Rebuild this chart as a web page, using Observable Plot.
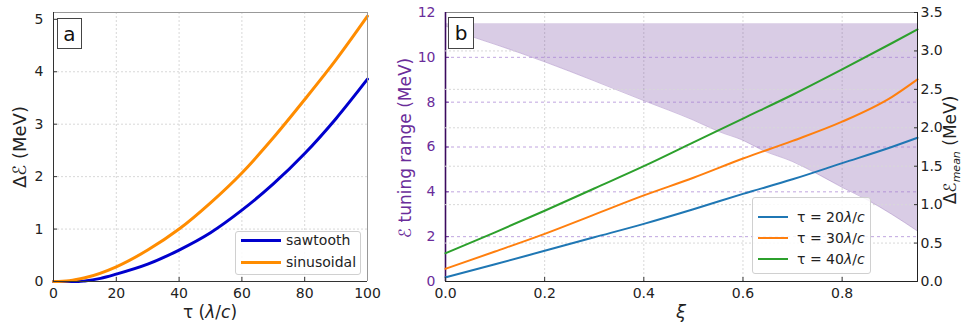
<!DOCTYPE html>
<html><head><meta charset="utf-8">
<script src="https://cdn.jsdelivr.net/npm/d3@7"></script>
<script src="https://cdn.jsdelivr.net/npm/@observablehq/plot@0.6"></script>
<style>
body{margin:0;background:#fff;font-family:"DejaVu Sans",sans-serif;}
#root{position:relative;width:964px;height:323px;overflow:hidden;background:#fff;}
.layer{position:absolute;top:0;}
.lbl{position:absolute;white-space:nowrap;color:#222;transform:translate(-50%,-50%);line-height:1;}
.rot{transform:translate(-50%,-50%) rotate(-90deg);}
.leg{position:absolute;background:rgba(255,255,255,0.85);border:1px solid #d0d0d0;border-radius:3px;font-size:14px;color:#222;}
.row{position:absolute;left:0;white-space:nowrap;line-height:1;}
.row span.sw{position:absolute;top:-1.5px;height:0;}
.row span.tx{position:absolute;transform:translateY(-50%);}
.tag{position:absolute;border:1px solid #444;background:#fff;font-size:20px;color:#111;display:flex;align-items:center;justify-content:center;}
</style></head><body><div id="root"></div>
<script>
// ---- Panel a data ----
const tauSaw = [0, 5, 8, 10, 15, 20, 30, 40, 50, 60, 70, 80, 90, 100];
const sawtooth = [0, 0, 0.0, 0.01, 0.06, 0.14, 0.33, 0.6, 0.93, 1.36, 1.86, 2.44, 3.11, 3.86];
const tauSin = [0, 5, 10, 20, 30, 40, 50, 60, 70, 80, 90, 100];
const sinusoidal = [0, 0.015, 0.07, 0.28, 0.6, 1.0, 1.5, 2.07, 2.74, 3.47, 4.23, 5.06];
const tauTicks = [0, 20, 40, 60, 80, 100];
const dETicks = [0, 1, 2, 3, 4, 5];

// ---- Panel b data ----
const xi = [0, 0.1, 0.2, 0.3, 0.4, 0.5, 0.6, 0.7, 0.8, 0.9, 0.952];
const tau20 = [0.055, 0.225, 0.40, 0.575, 0.75, 0.94, 1.14, 1.33, 1.54, 1.75, 1.87];
const tau30 = [0.165, 0.39, 0.62, 0.87, 1.12, 1.35, 1.6, 1.83, 2.08, 2.4, 2.63];
const tau40 = [0.367, 0.64, 0.92, 1.21, 1.50, 1.81, 2.12, 2.43, 2.76, 3.1, 3.28];
const xiShade = [0, 0.05, 0.1, 0.2, 0.3, 0.4, 0.5, 0.55, 0.6, 0.64, 0.7, 0.75, 0.8, 0.85, 0.9, 0.952];
const shadeLow = [11.4, 10.95, 10.58, 9.8, 8.95, 8.07, 7.2, 6.7, 6.3, 5.85, 5.35, 4.8, 4.2, 3.65, 3.0, 2.25];
const shadeTop = 11.5;
const xiTicks = [0, 0.2, 0.4, 0.6, 0.8];
const rangeTicks = [0, 2, 4, 6, 8, 10, 12];
const meanTicks = [0, 0.5, 1, 1.5, 2, 2.5, 3, 3.5];

const FONT = "DejaVu Sans";
const root = document.getElementById("root");
function place(el, left) { el.classList.add("layer"); el.style.left = left + "px"; root.appendChild(el); }
const intFmt = d => String(d);
const f1 = d3.format(".1f");

// ---------- Panel a ----------
const sawData = tauSaw.map((t, i) => ({t, v: sawtooth[i]}));
const sinData = tauSin.map((t, i) => ({t, v: sinusoidal[i]}));
const A = Plot.plot({
  width: 400, height: 323, marginLeft: 53, marginRight: 33, marginTop: 12, marginBottom: 42,
  x: {domain: [0, 100]}, y: {domain: [0, 5.13]},
  style: {fontFamily: FONT, fontSize: "14px", color: "#222", background: "transparent"},
  marks: [
    Plot.gridX([20, 40, 60, 80], {stroke: "#d8d8d8", strokeOpacity: 1, strokeDasharray: "2,2"}),
    Plot.gridY([1, 2, 3, 4], {stroke: "#d8d8d8", strokeOpacity: 1, strokeDasharray: "2,2"}),
    Plot.line(sawData, {x: "t", y: "v", stroke: "#0000cd", strokeWidth: 3, curve: "monotone-x"}),
    Plot.line(sinData, {x: "t", y: "v", stroke: "#ff8c00", strokeWidth: 3, curve: "monotone-x"}),
    Plot.axisX(tauTicks, {tickSize: 0, tickPadding: 7, label: null, fontSize: 14, tickFormat: intFmt}),
    Plot.axisX(tauTicks, {tickSize: 4, dy: -4, tickFormat: () => "", label: null, stroke: "#333"}),
    Plot.axisY(dETicks, {tickSize: 0, tickPadding: 10, label: null, fontSize: 14, tickFormat: intFmt}),
    Plot.axisY(dETicks, {tickSize: 4, dx: 4, tickFormat: () => "", label: null, stroke: "#333"}),
    Plot.ruleY([5.13], {stroke: "#999"}),
    Plot.ruleX([100], {stroke: "#999"}),
    Plot.ruleX([0], {stroke: "#333"}),
    Plot.ruleY([0], {stroke: "#333"})
  ]
});
place(A, 0);

// ---------- Panel b, layer 1 (left scale) ----------
const PURPLE = "#6a2c9a";
const shade = xiShade.map((x, i) => ({x, lo: shadeLow[i], hi: shadeTop}));
const common = {width: 564, height: 323, marginLeft: 45, marginRight: 47, marginTop: 12, marginBottom: 42};
const B1 = Plot.plot({
  ...common,
  x: {domain: [0, 0.952], axis: null}, y: {domain: [0, 12]},
  style: {fontFamily: FONT, fontSize: "14px", color: "#222", background: "transparent"},
  marks: [
    Plot.gridX([0.2, 0.4, 0.6, 0.8], {stroke: "#d8d8d8", strokeOpacity: 1, strokeDasharray: "2,2"}),
    Plot.areaY(shade, {x: "x", y1: "lo", y2: "hi", fill: "#663399", fillOpacity: 0.25, curve: "monotone-x"}),
    Plot.line(shade, {x: "x", y: "lo", stroke: "#663399", strokeOpacity: 0.3, strokeWidth: 1, curve: "monotone-x"}),
    Plot.gridY([2, 4, 6, 8, 10], {stroke: "#a57fd1", strokeOpacity: 0.7, strokeDasharray: "3,3"}),
    Plot.axisY(rangeTicks, {tickSize: 0, tickPadding: 10, label: null, fontSize: 14, fill: PURPLE, tickFormat: intFmt}),
    Plot.axisY(rangeTicks, {tickSize: 4, dx: 4, tickFormat: () => "", label: null, stroke: PURPLE}),
    Plot.ruleY([12], {stroke: "#888"}),
    Plot.ruleX([0], {stroke: "#3b0a5e", strokeWidth: 1.6})
  ]
});
place(B1, 400);

// ---------- Panel b, layer 2 (right scale) ----------
const lineData = [["τ20", tau20], ["τ30", tau30], ["τ40", tau40]]
  .flatMap(([k, arr]) => arr.map((v, i) => ({k, x: xi[i], v})));
const B2 = Plot.plot({
  ...common,
  x: {domain: [0, 0.952]}, y: {domain: [0, 3.5]},
  color: {domain: ["τ20", "τ30", "τ40"], range: ["#1f77b4", "#ff7f0e", "#2ca02c"]},
  style: {fontFamily: FONT, fontSize: "14px", color: "#222", background: "transparent"},
  marks: [
    Plot.gridY([0.5, 1, 1.5, 2, 2.5, 3], {stroke: "#d8d8d8", strokeOpacity: 1, strokeDasharray: "2,2"}),
    Plot.line(lineData, {x: "x", y: "v", z: "k", stroke: "k", strokeWidth: 2, curve: "monotone-x"}),
    Plot.axisX(xiTicks, {tickSize: 0, tickPadding: 7, label: null, fontSize: 14, tickFormat: f1}),
    Plot.axisX(xiTicks, {tickSize: 4, dy: -4, tickFormat: () => "", label: null, stroke: "#333"}),
    Plot.axisY(meanTicks, {anchor: "right", tickSize: 0, tickPadding: 3, label: null, fontSize: 14, tickFormat: f1}),
    Plot.axisY(meanTicks, {anchor: "right", tickSize: 4, dx: -4, tickFormat: () => "", label: null, stroke: "#333"}),
    Plot.ruleX([0.952], {stroke: "#222"}),
    Plot.ruleY([0], {stroke: "#222"})
  ]
});
place(B2, 400);

// ---------- Text overlays ----------
function label(html, cx, cy, size, extra = "", rot = false) {
  const d = document.createElement("div");
  d.className = "lbl" + (rot ? " rot" : "");
  d.style.left = cx + "px"; d.style.top = cy + "px"; d.style.fontSize = size + "px";
  d.style.cssText += extra;
  d.innerHTML = html;
  root.appendChild(d);
}
label("Δℰ (MeV)", 20, 147, 18, "", true);
label("τ (<i>λ</i>/<i>c</i>)", 210, 312, 17);
label("ℰ tuning range (MeV)", 405, 148, 17, "color:" + PURPLE + ";", true);
label("<i>ξ</i>", 681, 312, 18);
label("Δℰ<sub style='font-size:11px;font-style:italic;'>mean</sub> (MeV)", 952, 150, 17, "", true);

function tag(txt, left, top, w, h) {
  const d = document.createElement("div");
  d.className = "tag";
  d.style.cssText += `left:${left}px;top:${top}px;width:${w}px;height:${h}px;`;
  d.textContent = txt;
  root.appendChild(d);
}
tag("a", 57, 18, 23, 29);
tag("b", 448, 17, 24, 30);

function legend(items, left, top, w, h, rowY, lineX0, lineW, textX, lw) {
  const box = document.createElement("div");
  box.className = "leg";
  box.style.cssText += `left:${left}px;top:${top}px;width:${w}px;height:${h}px;`;
  items.forEach(([color, html], i) => {
    const r = document.createElement("div");
    r.className = "row";
    r.style.top = rowY[i] + "px";
    r.innerHTML = `<span class="sw" style="left:${lineX0}px;width:${lineW}px;border-top:${lw}px solid ${color};top:${-lw/2}px"></span><span class="tx" style="left:${textX}px">${html}</span>`;
    box.appendChild(r);
  });
  root.appendChild(box);
}
legend([["#0000cd", "sawtooth"], ["#ff8c00", "sinusoidal"]], 235, 231, 124, 42, [8, 30], 5, 40, 50, 3);
legend([["#1f77b4", "τ = 20<i>λ</i>/<i>c</i>"], ["#ff7f0e", "τ = 30<i>λ</i>/<i>c</i>"], ["#2ca02c", "τ = 40<i>λ</i>/<i>c</i>"]],
  752, 197, 117, 75, [19, 40, 61], 5, 30, 44, 2);
</script></body></html>
